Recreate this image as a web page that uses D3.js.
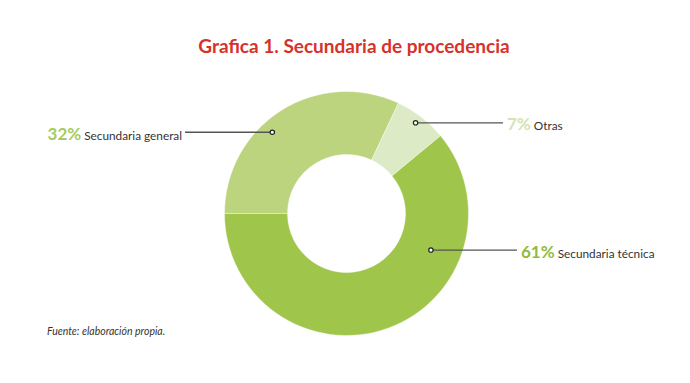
<!DOCTYPE html>
<html><head><meta charset="utf-8">
<script src="https://cdn.jsdelivr.net/npm/d3@7"></script>
<style>
html,body{margin:0;padding:0;background:#fff;}
svg{display:block;}
</style></head>
<body>
<script>
const categories = ["Secundaria general", "Otras", "Secundaria técnica"];
const values = [32, 7, 61];
const percentLabels = ["32%", "7%", "61%"];
const colors = ["#bcd47e", "#ddeac6", "#9fc54b"];
const pctColors = ["#a6cb5e", "#d3e3b3", "#8fbc3c"];
const title = "Grafica 1. Secundaria de procedencia";
const source = "Fuente: elaboración propia.";

const W = 690, H = 383;
const cx = 346.5, cy = 213.5, R = 122, r = 59;

// label layout: dot angle (deg from top, clockwise), dot radius, line end x, side
const labelLayout = [
  {ang: -42.4, rad: 110, lineX: 185, side: "left", textX: 182},
  {ang: 37.3, rad: 114, lineX: 503, side: "right", textX: 507},
  {ang: 113.4, rad: 92, lineX: 517, side: "right", textX: 521}
];

const svg = d3.select("body").append("svg").attr("width", W).attr("height", H);

svg.append("text").attr("x", 354).attr("y", 52.5).attr("text-anchor", "middle")
  .attr("font-family", "Lato").attr("font-weight", "bold").attr("font-size", 19)
  .attr("fill", "#d7312a").text(title);

const pie = d3.pie().value(d => d).sort(null).startAngle(-Math.PI/2).endAngle(3*Math.PI/2);
const arc = d3.arc().innerRadius(r).outerRadius(R);
const arcs = pie(values);

const g = svg.append("g").attr("transform", `translate(${cx},${cy})`);
g.selectAll("path").data(arcs).join("path")
  .attr("d", arc).attr("fill", (d,i) => colors[i])
  .attr("stroke", "rgba(255,255,255,0.5)").attr("stroke-width", 0.8);

const lab = svg.append("g");
arcs.forEach((d, i) => {
  const L = labelLayout[i];
  const a = L.ang * Math.PI / 180;
  const x = cx + Math.sin(a) * L.rad, y = cy - Math.cos(a) * L.rad;
  lab.append("line").attr("x1", x).attr("y1", y).attr("x2", L.lineX).attr("y2", y)
    .attr("stroke", "#555").attr("stroke-width", 1.3);
  lab.append("circle").attr("cx", x).attr("cy", y).attr("r", 2.2)
    .attr("fill", "#fff").attr("stroke", "#222").attr("stroke-width", 1.2);
  const t = lab.append("text").attr("x", L.textX).attr("y", y + 7.5)
    .attr("text-anchor", L.side === "left" ? "end" : "start")
    .attr("font-family", "Lato");
  t.append("tspan").attr("font-weight", "bold").attr("font-size", 17)
    .attr("fill", pctColors[i]).text(percentLabels[i]);
  t.append("tspan").attr("font-size", 11.8).attr("fill", "#333").attr("dx", 3).text(categories[i]);
});

svg.append("text").attr("x", 47).attr("y", 335).attr("font-family", "Lato")
  .attr("font-style", "italic").attr("font-size", 10.5).attr("fill", "#333").text(source);
</script>
</body></html>
